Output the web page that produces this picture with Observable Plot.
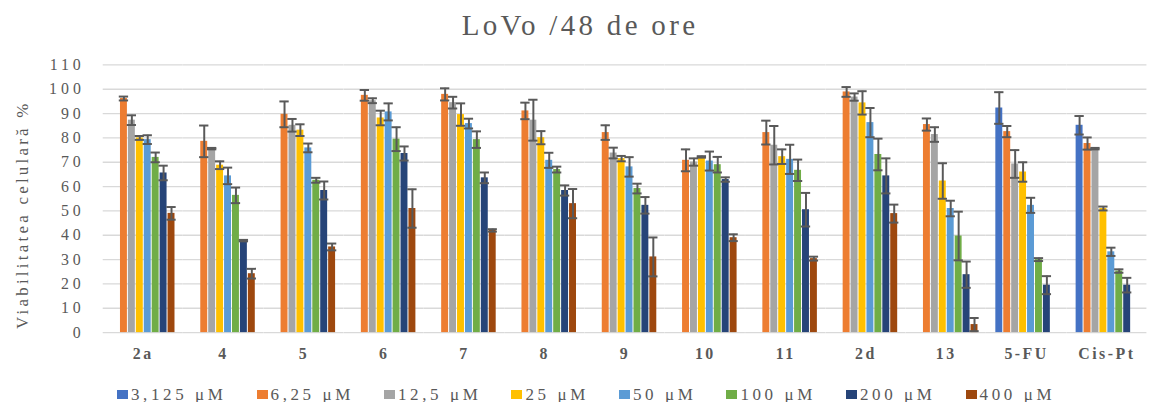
<!DOCTYPE html>
<html>
<head>
<meta charset="utf-8">
<script src="https://cdn.jsdelivr.net/npm/d3@7"></script>
<script src="https://cdn.jsdelivr.net/npm/@observablehq/plot@0.6"></script>
<style>
  html, body { margin: 0; padding: 0; background: #ffffff; overflow: hidden; width: 1149px; height: 402px; }
  body { position: relative; font-family: "Liberation Serif", "Times New Roman", serif; color: #595959; }
  #title { position: absolute; top: 11px; left: 0; width: 1160px; text-align: center; font-size: 29px; line-height: 29px; letter-spacing: 3.3px; color: #595959; white-space: nowrap; }
  #chart { position: absolute; top: 0; left: 0; }
  #legend { position: absolute; top: 386px; left: 117px; display: flex; gap: 30px; font-size: 17px; line-height: 17px; letter-spacing: 3.6px; color: #595959; white-space: nowrap; }
  #legend .item { display: flex; align-items: center; gap: 3px; }
  #legend .sw { width: 11px; height: 9px; display: inline-block; }
</style>
</head>
<body>
<div id="title">LoVo /48 de ore</div>
<div id="chart"></div>
<div id="legend"></div>
<script>
// ---- data ----
const categories = ["2a", "4", "5", "6", "7", "8", "9", "10", "11", "2d", "13", "5-FU", "Cis-Pt"];
const seriesNames = ["3,125 μM", "6,25 μM", "12,5 μM", "25 μM", "50 μM", "100 μM", "200 μM", "400 μM"];
const seriesColors = ["#4472C4", "#ED7D31", "#A5A5A5", "#FFC000", "#5B9BD5", "#70AD47", "#264478", "#9E480E"];
const yTicks = [0, 10, 20, 30, 40, 50, 60, 70, 80, 90, 100, 110];

const v3125 = [null, null, null, null, null, null, null, null, null, null, null, 92.3, 85.2];
const v625  = [96.2, 78.6, 89.7, 97.5, 97.9, 91.1, 82.2, 70.8, 82.2, 98.9, 85.5, 82.6, 77.7];
const v125  = [87.3, 75.6, 85.2, 95.3, 94.5, 87.3, 73.8, 70.1, 77.0, 96.8, 81.4, 69.3, 75.6];
const v25   = [80.0, 68.8, 83.2, 88.2, 89.6, 80.1, 71.5, 72.2, 72.3, 94.4, 62.3, 66.0, 51.0];
const v50   = [79.3, 64.4, 75.9, 90.7, 85.9, 70.8, 68.1, 70.5, 71.2, 86.3, 51.0, 52.3, 33.2];
const v100  = [72.0, 56.4, 62.6, 79.5, 79.3, 67.0, 59.2, 69.0, 66.7, 73.2, 39.7, 30.0, 25.3];
const v200  = [65.6, 37.8, 58.4, 73.6, 63.6, 58.4, 52.3, 62.9, 50.5, 64.4, 23.8, 19.5, 19.5];
const v400  = [49.0, 24.2, 35.2, 51.0, 42.0, 53.0, 31.1, 39.0, 30.4, 48.9, 3.3, null, null];

const e3125 = [null, null, null, null, null, null, null, null, null, null, null, 6.5, 3.8];
const e625  = [0.8, 6.5, 5.3, 2.2, 2.5, 3.4, 3.0, 4.5, 4.9, 2.0, 2.5, 2.3, 2.5];
const e125  = [2.0, 0.3, 2.6, 1.0, 2.4, 8.4, 2.2, 1.5, 7.9, 1.5, 3.0, 5.7, 0.3];
const e25   = [0.8, 1.6, 2.4, 3.0, 4.6, 2.7, 1.1, 0.3, 3.0, 4.8, 7.3, 4.0, 0.8];
const e50   = [1.8, 3.4, 1.8, 3.5, 2.0, 3.1, 4.0, 3.9, 6.0, 6.0, 3.2, 3.1, 1.7];
const e100  = [2.0, 3.2, 1.0, 4.9, 3.4, 1.2, 2.0, 3.2, 4.4, 6.5, 10.0, 0.6, 0.7];
const e200  = [3.0, 0.3, 3.7, 2.9, 2.2, 2.1, 3.4, 0.9, 6.9, 7.2, 5.4, 3.7, 3.0];
const e400  = [2.6, 2.0, 1.4, 7.9, 0.5, 6.0, 8.0, 1.4, 0.8, 3.7, 2.7, null, null];

const valueLists = [v3125, v625, v125, v25, v50, v100, v200, v400];
const errorLists = [e3125, e625, e125, e25, e50, e100, e200, e400];

// ---- table built from the arrays ----
const rows = [];
seriesNames.forEach((s, i) => {
  categories.forEach((c, j) => {
    const v = valueLists[i][j];
    if (v != null) rows.push({cat: c, series: s, value: v, err: errorLists[i][j] || 0});
  });
});

const font = "'Liberation Serif', 'Times New Roman', serif";
const errColor = "#595959";

const chart = Plot.plot({
  width: 1159,
  height: 372,
  marginLeft: 102,
  marginRight: 0,
  marginTop: 65,
  marginBottom: 37,
  style: {fontFamily: font, color: "#595959", background: "transparent", overflow: "visible"},
  fx: {domain: categories, paddingInner: 0.183, paddingOuter: 0.0915, label: null},
  x: {domain: seriesNames, paddingInner: 0.17, paddingOuter: 0.085, axis: null},
  y: {domain: [0, 110], label: null},
  color: {domain: seriesNames, range: seriesColors},
  marks: [
    Plot.ruleY(yTicks, {y: d => d, stroke: "#d9d9d9", strokeWidth: 1.3, insetLeft: -7.4, insetRight: -7.4}),
    Plot.barY(rows, {fx: "cat", x: "series", y: "value", fill: "series"}),
    Plot.ruleX(rows, {fx: "cat", x: "series", y1: d => d.value - d.err, y2: d => d.value + d.err, stroke: errColor, strokeWidth: 2}),
    Plot.tickY(rows, {fx: "cat", x: "series", y: d => d.value + d.err, stroke: errColor, strokeWidth: 2, insetLeft: -1.2, insetRight: -1.2}),
    Plot.tickY(rows, {fx: "cat", x: "series", y: d => d.value - d.err, stroke: errColor, strokeWidth: 2, insetLeft: -1.2, insetRight: -1.2}),
    Plot.axisY(yTicks, {tickSize: 0, tickPadding: 26, fontSize: 16, label: null}),
    Plot.axisFx({anchor: "bottom", tickSize: 0, tickPadding: 15, fontSize: 16, fontWeight: "bold", label: null}),
    Plot.text(["Viabilitatea celulară %"], {fx: () => "2a", frameAnchor: "left", rotate: -90, textAnchor: "middle", dx: -89, dy: 16, fontSize: 17, fill: "#595959"})
  ]
});
document.getElementById("chart").appendChild(chart);

// letter spacing to mimic the stretched reference text
d3.select(chart).selectAll('g[aria-label="y-axis tick label"] text').style("letter-spacing", "4px");
d3.select(chart).selectAll('g[aria-label="fx-axis tick label"] text').style("letter-spacing", "2.5px");
d3.select(chart).selectAll('g[aria-label="text"] text').style("letter-spacing", "3.3px");

// legend
const legend = d3.select("#legend");
seriesNames.forEach((s, i) => {
  const item = legend.append("div").attr("class", "item");
  item.append("span").attr("class", "sw").style("background", seriesColors[i]);
  item.append("span").text(s);
});
</script>
</body>
</html>
